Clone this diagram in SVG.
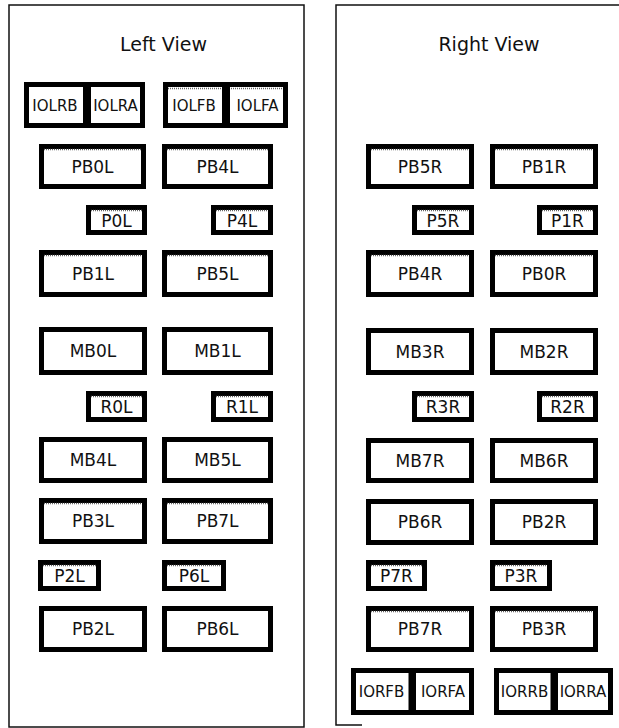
<svg xmlns="http://www.w3.org/2000/svg" width="619" height="728" viewBox="0 0 619 728">
<style>
.panel{fill:none;stroke:#111;stroke-width:1.5}
.box rect{fill:#fff;stroke:#000;stroke-width:5}
.box line{stroke:#666;stroke-width:1.5;stroke-dasharray:1 1}
text{font-family:"DejaVu Sans",Verdana,sans-serif;fill:#111;text-anchor:middle}
.lbl{font-size:17px}
.io{font-size:15px}
.title{font-size:19px}
</style>
<rect width="619" height="728" fill="#fff"/>
<g id="left-panel">
<rect class="panel" x="9" y="5" width="295" height="722"/>
<text class="title" x="163.5" y="51">Left View</text>
</g>
<g id="right-panel">
<path class="panel" d="M619,5 H336 V725 H362"/>
<text class="title" x="489" y="51">Right View</text>
</g>
<g id="connectors"></g>

<g id="IOLRB" class="box"><rect x="26.5" y="84.5" width="59" height="41"/><text class="io" x="55" y="111">IOLRB</text></g>
<g id="IOLRA" class="box"><rect x="88.5" y="84.5" width="54" height="41"/><text class="io" x="115.5" y="111">IOLRA</text></g>
<g id="IOLFB" class="box"><rect x="165.5" y="84.5" width="59" height="41"/><line x1="168" y1="88.5" x2="222" y2="88.5"/><text class="io" x="194" y="111">IOLFB</text></g>
<g id="IOLFA" class="box"><rect x="227.5" y="84.5" width="58" height="41"/><line x1="231" y1="88.5" x2="283" y2="88.5"/><text class="io" x="257.5" y="111">IOLFA</text></g>

<g id="PB0L" class="box"><rect x="41.5" y="146.5" width="102" height="40"/><line x1="44" y1="149.5" x2="141" y2="149.5"/><text class="lbl" x="92.5" y="173">PB0L</text></g>
<g id="PB4L" class="box"><rect x="164.5" y="146.5" width="106" height="40"/><line x1="167" y1="149.5" x2="268" y2="149.5"/><text class="lbl" x="217.5" y="173">PB4L</text></g>
<g id="P0L" class="box"><rect x="88.5" y="207.5" width="56" height="25"/><line x1="91" y1="210.5" x2="142" y2="210.5"/><text class="lbl" x="116.5" y="227">P0L</text></g>
<g id="P4L" class="box"><rect x="213.5" y="207.5" width="57" height="25"/><line x1="216" y1="210.5" x2="268" y2="210.5"/><text class="lbl" x="242" y="227">P4L</text></g>
<g id="PB1L" class="box"><rect x="41.5" y="252.5" width="103" height="42"/><line x1="44" y1="255.5" x2="142" y2="255.5"/><text class="lbl" x="93" y="280">PB1L</text></g>
<g id="PB5L" class="box"><rect x="164.5" y="252.5" width="106" height="42"/><line x1="167" y1="255.5" x2="268" y2="255.5"/><text class="lbl" x="217.5" y="280">PB5L</text></g>
<g id="MB0L" class="box"><rect x="41.5" y="329.5" width="103" height="43"/><text class="lbl" x="93" y="357">MB0L</text></g>
<g id="MB1L" class="box"><rect x="164.5" y="329.5" width="106" height="43"/><text class="lbl" x="217.5" y="357">MB1L</text></g>
<g id="R0L" class="box"><rect x="88.5" y="393.5" width="56" height="26"/><line x1="91" y1="396.5" x2="142" y2="396.5"/><text class="lbl" x="116.5" y="413">R0L</text></g>
<g id="R1L" class="box"><rect x="213.5" y="393.5" width="57" height="26"/><line x1="216" y1="396.5" x2="268" y2="396.5"/><text class="lbl" x="242" y="413">R1L</text></g>
<g id="MB4L" class="box"><rect x="41.5" y="439.5" width="103" height="41"/><text class="lbl" x="93" y="466">MB4L</text></g>
<g id="MB5L" class="box"><rect x="164.5" y="439.5" width="106" height="41"/><text class="lbl" x="217.5" y="466">MB5L</text></g>
<g id="PB3L" class="box"><rect x="41.5" y="500.5" width="103" height="41"/><line x1="44" y1="503.5" x2="142" y2="503.5"/><text class="lbl" x="93" y="527">PB3L</text></g>
<g id="PB7L" class="box"><rect x="164.5" y="500.5" width="106" height="41"/><line x1="167" y1="503.5" x2="268" y2="503.5"/><text class="lbl" x="217.5" y="527">PB7L</text></g>
<g id="P2L" class="box"><rect x="40.5" y="562.5" width="58" height="26"/><line x1="43" y1="565.5" x2="96" y2="565.5"/><text class="lbl" x="69.5" y="582">P2L</text></g>
<g id="P6L" class="box"><rect x="164.5" y="562.5" width="59" height="26"/><line x1="167" y1="565.5" x2="221" y2="565.5"/><text class="lbl" x="194" y="582">P6L</text></g>
<g id="PB2L" class="box"><rect x="41.5" y="608.5" width="103" height="41"/><text class="lbl" x="93" y="635">PB2L</text></g>
<g id="PB6L" class="box"><rect x="164.5" y="608.5" width="106" height="41"/><text class="lbl" x="217.5" y="635">PB6L</text></g>

<g id="PB5R" class="box"><rect x="368.5" y="146.5" width="103" height="40"/><line x1="371" y1="149.5" x2="469" y2="149.5"/><text class="lbl" x="420" y="173">PB5R</text></g>
<g id="PB1R" class="box"><rect x="492.5" y="146.5" width="103" height="40"/><line x1="495" y1="149.5" x2="593" y2="149.5"/><text class="lbl" x="544" y="173">PB1R</text></g>
<g id="P5R" class="box"><rect x="414.5" y="207.5" width="57" height="25"/><line x1="417" y1="210.5" x2="469" y2="210.5"/><text class="lbl" x="443" y="227">P5R</text></g>
<g id="P1R" class="box"><rect x="539.5" y="207.5" width="56" height="25"/><line x1="542" y1="210.5" x2="593" y2="210.5"/><text class="lbl" x="567.5" y="227">P1R</text></g>
<g id="PB4R" class="box"><rect x="368.5" y="252.5" width="103" height="42"/><line x1="371" y1="255.5" x2="469" y2="255.5"/><text class="lbl" x="420" y="280">PB4R</text></g>
<g id="PB0R" class="box"><rect x="492.5" y="252.5" width="103" height="42"/><line x1="495" y1="255.5" x2="593" y2="255.5"/><text class="lbl" x="544" y="280">PB0R</text></g>
<g id="MB3R" class="box"><rect x="368.5" y="330.5" width="103" height="42"/><text class="lbl" x="420" y="358">MB3R</text></g>
<g id="MB2R" class="box"><rect x="492.5" y="330.5" width="103" height="42"/><text class="lbl" x="544" y="358">MB2R</text></g>
<g id="R3R" class="box"><rect x="414.5" y="393.5" width="57" height="26"/><line x1="417" y1="396.5" x2="469" y2="396.5"/><text class="lbl" x="443" y="413">R3R</text></g>
<g id="R2R" class="box"><rect x="539.5" y="393.5" width="56" height="26"/><line x1="542" y1="396.5" x2="593" y2="396.5"/><text class="lbl" x="567.5" y="413">R2R</text></g>
<g id="MB7R" class="box"><rect x="368.5" y="440.5" width="103" height="40"/><text class="lbl" x="420" y="467">MB7R</text></g>
<g id="MB6R" class="box"><rect x="492.5" y="440.5" width="103" height="40"/><text class="lbl" x="544" y="467">MB6R</text></g>
<g id="PB6R" class="box"><rect x="368.5" y="501.5" width="103" height="41"/><text class="lbl" x="420" y="528">PB6R</text></g>
<g id="PB2R" class="box"><rect x="492.5" y="501.5" width="103" height="41"/><text class="lbl" x="544" y="528">PB2R</text></g>
<g id="P7R" class="box"><rect x="368.5" y="562.5" width="56" height="26"/><line x1="371" y1="565.5" x2="422" y2="565.5"/><text class="lbl" x="396.5" y="582">P7R</text></g>
<g id="P3R" class="box"><rect x="492.5" y="562.5" width="57" height="26"/><line x1="495" y1="565.5" x2="547" y2="565.5"/><text class="lbl" x="521" y="582">P3R</text></g>
<g id="PB7R" class="box"><rect x="368.5" y="608.5" width="103" height="41"/><line x1="371" y1="611.5" x2="469" y2="611.5"/><text class="lbl" x="420" y="635">PB7R</text></g>
<g id="PB3R" class="box"><rect x="492.5" y="608.5" width="103" height="41"/><line x1="495" y1="611.5" x2="593" y2="611.5"/><text class="lbl" x="544" y="635">PB3R</text></g>
<g id="IORFB" class="box"><rect x="353.5" y="670.5" width="57.5" height="42"/><text class="io" x="381.5" y="697">IORFB</text></g>
<g id="IORFA" class="box"><rect x="413.5" y="670.5" width="58" height="42"/><text class="io" x="443" y="697">IORFA</text></g>
<g id="IORRB" class="box"><rect x="496.5" y="670.5" width="56.5" height="42"/><text class="io" x="524.5" y="697">IORRB</text></g>
<g id="IORRA" class="box"><rect x="555.5" y="670.5" width="55" height="42"/><text class="io" x="583" y="697">IORRA</text></g>
</svg>
